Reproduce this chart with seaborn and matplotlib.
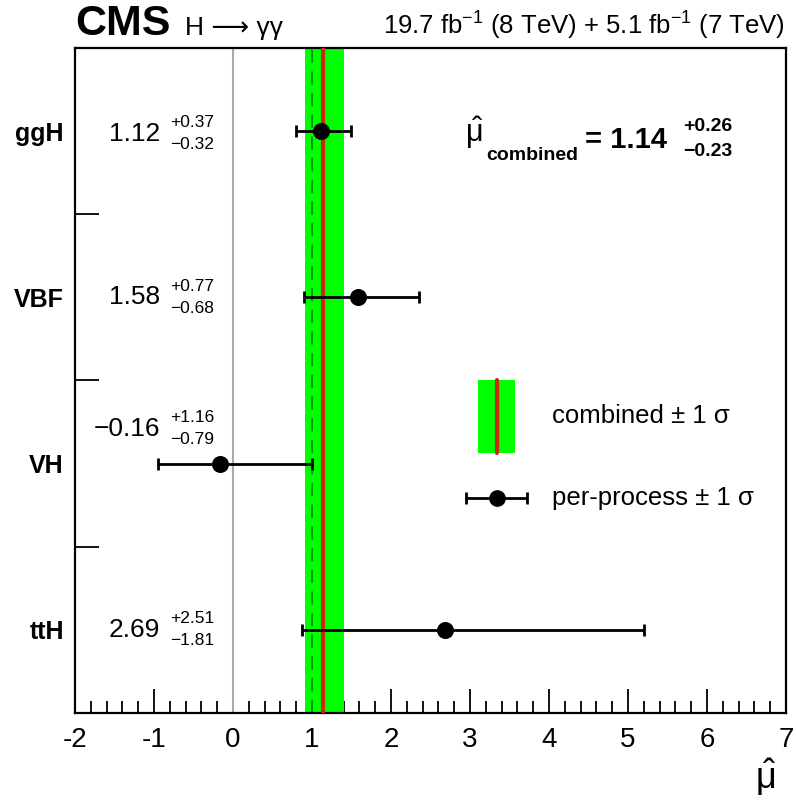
import pandas as pd
import matplotlib.pyplot as plt
import seaborn as sns
from matplotlib.patches import Rectangle
from matplotlib.lines import Line2D

# per-process signal strengths
processes = ['ggH', 'VBF', 'VH', 'ttH']
mu_hat = [1.12, 1.58, -0.16, 2.69]
err_up = [0.37, 0.77, 1.16, 2.51]
err_dn = [0.32, 0.68, 0.79, 1.81]
# vertical shift of the value labels (VH label sits above its error bar)
label_shift = [-0.015, 0.0, 0.21, 0.0]

# combined result
mu_comb = 1.14
comb_up = 0.26
comb_dn = 0.23
mu_sm = 1.0

x_ticks = [-2, -1, 0, 1, 2, 3, 4, 5, 6, 7]

sns.set_style('ticks')
plt.rcParams['font.family'] = ['Liberation Sans', 'DejaVu Sans']
plt.rcParams['mathtext.fontset'] = 'custom'
plt.rcParams['mathtext.rm'] = 'Liberation Sans'
plt.rcParams['mathtext.it'] = 'Liberation Sans'
plt.rcParams['mathtext.bf'] = 'Liberation Sans:bold'
plt.rcParams['axes.unicode_minus'] = False
for key in ['text.color', 'axes.edgecolor', 'axes.labelcolor', 'xtick.color', 'ytick.color']:
    plt.rcParams[key] = 'black'

df = pd.DataFrame({'process': processes, 'mu': mu_hat, 'up': err_up, 'dn': err_dn})
n = len(df)
df['pos'] = [n - 0.5 - i for i in range(n)]

fig = plt.figure(figsize=(7.96, 8.08), dpi=100)
ax = fig.add_axes([0.0942, 0.1176, 0.8932, 0.8230])

# combined band, SM line, zero line
ax.axvspan(mu_comb - comb_dn, mu_comb + comb_up, color='#00ff00', lw=0, zorder=1)
ax.axvline(mu_sm, color='#008800', lw=1.2, ls=(0, (8, 5)), zorder=2)
ax.axvline(mu_comb, color='#cc2a10', lw=3, zorder=3)
ax.axvline(0, color='#aaaaaa', lw=1.5, zorder=1)

# per-process points
ax.errorbar(df['mu'], df['pos'], xerr=[df['dn'], df['up']], fmt='none',
            ecolor='black', elinewidth=2, capsize=4, capthick=2, zorder=4)
sns.scatterplot(data=df, x='mu', y='pos', color='black', s=150,
                edgecolor='black', linewidth=0, zorder=5, ax=ax)

# value labels
for i, row in df.iterrows():
    yv = row['pos'] + label_shift[i]
    main = f"{row['mu']:.2f}".replace('-', '\u2212')
    ax.text(-0.92, yv, main, ha='right', va='center', fontsize=19)
    ax.text(-0.80, yv + 0.066, f"+{row['up']:.2f}", ha='left', va='center', fontsize=12.5)
    ax.text(-0.80, yv - 0.066, f"\u2212{row['dn']:.2f}", ha='left', va='center', fontsize=12.5)

# combined result text
ax.text(0.548, 0.872, r'$\hat{\mu}$', transform=ax.transAxes, fontsize=22,
        ha='left', va='center')
ax.text(0.579, 0.838, 'combined', transform=ax.transAxes, fontsize=14,
        fontweight='bold', ha='left', va='center')
ax.text(0.718, 0.862, f'= {mu_comb:.2f}', transform=ax.transAxes, fontsize=21,
        fontweight='bold', ha='left', va='center')
ax.text(0.855, 0.882, f'+{comb_up:.2f}', transform=ax.transAxes, fontsize=14,
        fontweight='bold', ha='left', va='center')
ax.text(0.855, 0.845, f'\u2212{comb_dn:.2f}', transform=ax.transAxes, fontsize=14,
        fontweight='bold', ha='left', va='center')

# legend drawn by hand
ax.add_patch(Rectangle((0.567, 0.391), 0.052, 0.110, transform=ax.transAxes,
                       facecolor='#00ff00', edgecolor='none', zorder=6))
ax.add_line(Line2D([0.593, 0.593], [0.391, 0.501], transform=ax.transAxes,
                   color='#cc2a10', lw=3, zorder=7))
ax.text(0.671, 0.446, 'combined \u00b1 1 \u03c3', transform=ax.transAxes,
        fontsize=18.5, ha='left', va='center')
ax.errorbar([0.593], [0.323], xerr=[[0.043]], transform=ax.transAxes, fmt='o',
            color='black', ms=11, elinewidth=2, capsize=4, capthick=2, zorder=7)
ax.text(0.671, 0.323, 'per-process \u00b1 1 \u03c3', transform=ax.transAxes,
        fontsize=18.5, ha='left', va='center')

# axes styling
ax.set_xlim(-2, 7)
ax.set_ylim(0, n)
ax.set_xticks(x_ticks)
ax.set_xticklabels([str(t) for t in x_ticks], fontsize=20)
ax.set_xticks([x / 5 for x in range(-10, 35) if x % 5 != 0], minor=True)
ax.tick_params(axis='x', which='major', direction='in', length=17, width=1.3, pad=10)
ax.tick_params(axis='x', which='minor', direction='in', length=9, width=1.3)
ax.set_yticks(df['pos'])
ax.set_yticklabels(df['process'], fontsize=18, fontweight='bold')
ax.set_yticks([1, 2, 3], minor=True)
ax.tick_params(axis='y', which='major', length=0, pad=8)
ax.tick_params(axis='y', which='minor', direction='in', length=17, width=1.3)
for sp in ax.spines.values():
    sp.set_linewidth(1.6)
    sp.set_visible(True)
ax.set_xlabel('')
ax.set_ylabel('')

fig.text(0.975, 0.012, r'$\hat{\mu}$', fontsize=26, ha='right', va='bottom')

# header
fig.text(0.094, 0.957, 'CMS', fontsize=31, fontweight='bold', ha='left', va='baseline')
fig.text(0.232, 0.957, 'H \u27f6 \u03b3\u03b3', fontsize=19, ha='left', va='baseline',
         family=['Liberation Sans', 'DejaVu Sans'])
fig.text(0.986, 0.957, r'19.7 $\rm fb^{-1}$ (8 TeV) + 5.1 $\rm fb^{-1}$ (7 TeV)',
         fontsize=18.5, ha='right', va='baseline')

fig.savefig('out.png', dpi=100)
plt.close(fig)
